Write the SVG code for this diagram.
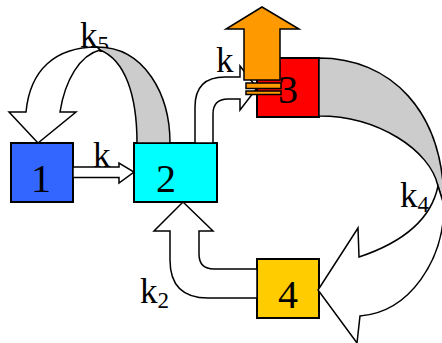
<svg xmlns="http://www.w3.org/2000/svg" width="442" height="343" viewBox="0 0 442 343">
  <style>
    .lbl { font-family: "Liberation Serif", "Times New Roman", serif; font-size: 35px; fill: #000; }
    .sub { font-size: 23px; }
    .num { font-family: "Liberation Serif", "Times New Roman", serif; font-size: 40px; fill: #000; text-anchor: middle; }
    .box { stroke: #000; stroke-width: 2; }
    .arrow { fill: #fff; stroke: #000; stroke-width: 1.5; stroke-linejoin: miter; }
    .back { fill: #ccc; stroke: #000; stroke-width: 1.5; }
    .out { fill: #ff9900; stroke: #000; stroke-width: 1.5; }
  </style>
  <rect width="442" height="343" fill="#fff"/>

  <!-- rate constant labels (arrows are drawn over them) -->
  <g id="labels">
    <text class="lbl" x="80" y="47">k<tspan class="sub" dy="5">5</tspan></text>
    <text class="lbl" x="93" y="167">k</text>
    <text class="lbl" x="216" y="72">k</text>
    <text class="lbl" x="140" y="303">k<tspan class="sub" dy="5">2</tspan></text>
    <text class="lbl" x="400" y="207">k<tspan class="sub" dy="5">4</tspan></text>
  </g>

  <g id="node-1">
    <rect class="box" x="11" y="143" width="62" height="59" fill="#3366ff"/>
    <text class="num" x="41" y="192">1</text>
  </g>
  <g id="node-2">
    <rect class="box" x="134" y="143" width="83" height="59" fill="#00ffff"/>
    <text class="num" x="166" y="192">2</text>
  </g>
  <g id="node-3">
    <rect class="box" x="257" y="58" width="62" height="59" fill="#ff0000"/>
    <text class="num" x="288" y="103">3</text>
  </g>
  <g id="node-4">
    <rect class="box" x="257" y="259" width="62" height="59" fill="#ffcc00"/>
    <text class="num" x="288" y="308">4</text>
  </g>

  <g id="connectors">
    <!-- k5: curved arrow from 2 back to 1 -->
    <path class="back" d="M97,47 C145,47 170,95 170,143 L137,143 C137,95 125,60 100,50 Z"/>
    <path class="arrow" d="M97,47 C55,47 30,70 26,112 L9,112 L38,143 L76,112 L60,112 C65,80 80,55 100,50 Z"/>

    <!-- k1: straight arrow from 1 to 2 -->
    <path class="arrow" d="M73,167 L119,167 L119,163 L134,172 L119,183 L119,177.5 L73,177.5 Z"/>

    <!-- k3: bent arrow from 2 up to 3 -->
    <path class="arrow" d="M195,143 L195,107 Q195,77 225,77 L240,77 L240,66 L257,88 L240,110 L240,99 L228,99 Q213,99 213,114 L213,143 Z"/>

    <!-- outflow from 3 -->
    <path class="out" d="M244,80 L244,29 L226,29 L262,7 L299,29 L280,29 L280,80 Z"/>
    <rect class="out" x="246" y="83" width="35" height="5.5"/>
    <rect class="out" x="246" y="91" width="35" height="3.5"/>

    <!-- k4: large curved arrow from 3 round to 4 -->
    <path class="back" d="M319,58 C390,58 444,110 444,205 L438,186 C430,150 378,116 319,116 Z"/>
    <path class="arrow" d="M438,186 L444,205 C444,260 410,312 360,316 L357,343 L318,290 L358,228 L359,257 C395,245 430,225 438,186 Z"/>

    <!-- k2: U-shaped arrow from 4 back to 2 -->
    <path class="arrow" d="M257,269 L214,269 Q199,269 199,254 L199,231 L213,231 L183,202 L154,231 L170,231 L170,260 Q170,298 208,298 L257,298 Z"/>
  </g>
</svg>
